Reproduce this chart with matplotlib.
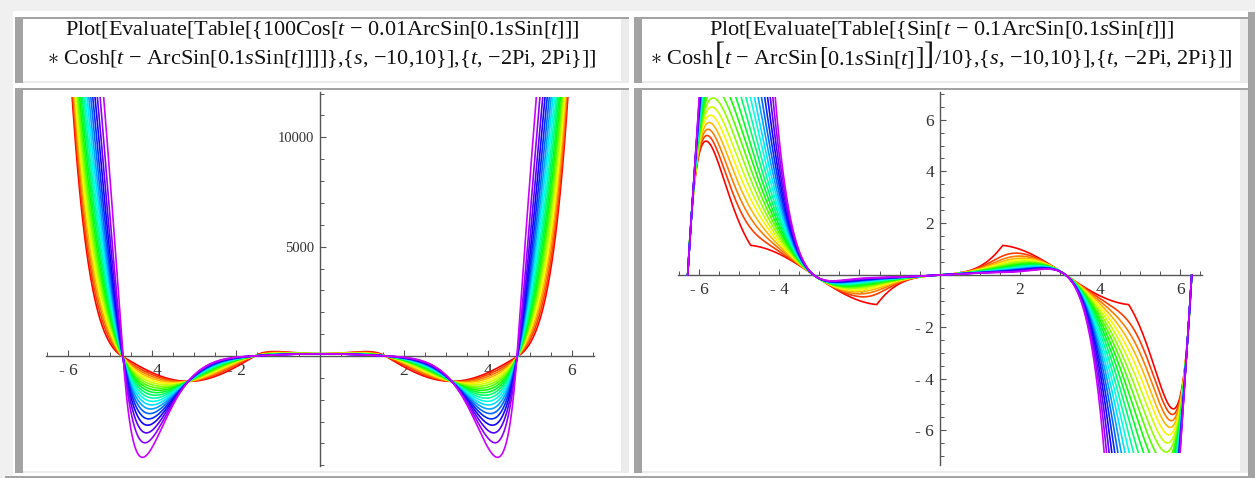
import numpy as np
import matplotlib
matplotlib.use("Agg")
import matplotlib.pyplot as plt
from matplotlib.patches import Rectangle
from matplotlib.ticker import MultipleLocator, FixedLocator, FuncFormatter
from matplotlib.colors import hsv_to_rgb

# ---------------------------
# Data (parameters shown in the chart titles)
# ---------------------------
s_values = list(range(-10, 11))          # Table over s, -10..10
t_range = (-2 * np.pi, 2 * np.pi)       # Plot over t, -2Pi..2Pi
left_amp = 100
left_shift = 0.01
right_shift = 0.1
right_div = 10
asin_scale = 0.1

left_xticks = [-6, -4, -2, 2, 4, 6]
left_yticks = [5000, 10000]
right_xticks = [-6, -4, -2, 2, 4, 6]
right_yticks = [-6, -4, -2, 2, 4, 6]

# title lines as (text, fontsize) pieces; bigger pieces are the tall brackets
TS = 16
left_title = [
    [("Plot[Evaluate[Table[{100Cos[$t$ − 0.01ArcSin[0.1$s$Sin[$t$]]]", TS)],
    [(r"$\ast$ Cosh[$t$ − ArcSin[0.1$s$Sin[$t$]]]]},{$s$, −10,10}],{$t$, −2Pi, 2Pi}]]", TS)],
]
right_title = [
    [("Plot[Evaluate[Table[{Sin[$t$ − 0.1ArcSin[0.1$s$Sin[$t$]]]", TS)],
    [(r"$\ast$ Cosh", TS), ("[", 22), ("$t$ − ArcSin", TS), ("[", 18.5),
     ("0.1$s$Sin[$t$]", TS), ("]", 18.5), ("]", 22),
     ("/10},{$s$, −10,10}],{$t$, −2Pi, 2Pi}]]", TS)],
]

# ---------------------------
# Style
# ---------------------------
plt.rcParams["mathtext.fontset"] = "custom"
plt.rcParams["mathtext.rm"] = "Liberation Serif"
plt.rcParams["mathtext.it"] = "Liberation Serif:italic"
plt.rcParams["font.family"] = ["Liberation Serif", "DejaVu Serif"]

W, H = 1255, 478
fig = plt.figure(figsize=(W / 100, H / 100), dpi=100)
fig.patch.set_facecolor("#f0f0f0")

DARK = "#a3a3a3"
LIGHT = "#ebebeb"


def px_rect(x0, y0, x1, y1, color):
    fig.add_artist(Rectangle((x0 / W, 1 - y1 / H), (x1 - x0) / W, (y1 - y0) / H,
                             transform=fig.transFigure, facecolor=color,
                             edgecolor="none", zorder=-5))


def cell(x0, y0, x1, y1):
    px_rect(x0, y0, x1, y1, "white")
    px_rect(x1 - 8, y0, x1, y1, LIGHT)
    px_rect(x0, y1 - 2, x1, y1, LIGHT)
    px_rect(x0, y0, x1, y0 + 1.8, DARK)
    px_rect(x0, y0, x0 + 7.7, y1, DARK)


# page / table frame
px_rect(12.7, 11, 1247.7, 476, "white")
px_rect(1247.7, 12, W, H, DARK)
px_rect(5, 476, W, H, DARK)

cell(15, 17, 629, 83)
cell(15, 88, 629, 473)
cell(634, 17, 1247.7, 83)
cell(634, 88, 1247.7, 473)

# titles, laid out piece by piece and centred in the header cell
renderer = fig.canvas.get_renderer()


def draw_line(pieces, xc, y_base):
    texts = [fig.text(0, 1 - y_base / H, s, fontsize=fs, va="baseline", ha="left",
                      color="#111111") for s, fs in pieces]
    widths = [tx.get_window_extent(renderer).width for tx in texts]
    x = xc - sum(widths) / 2
    for tx, w in zip(texts, widths):
        tx.set_x(x / W)
        x += w


for lines, xc in [(left_title, 322), (right_title, 941)]:
    for pieces, yb in zip(lines, [35, 64]):
        draw_line(pieces, xc, yb)

# ---------------------------
# Curves
# ---------------------------
t = np.linspace(t_range[0], t_range[1], 4000)
colors = [hsv_to_rgb((0.8 * i / (len(s_values) - 1), 1, 1)) for i in range(len(s_values))]


def left_f(s):
    a = np.arcsin(np.clip(asin_scale * s * np.sin(t), -1, 1))
    return left_amp * np.cos(t - left_shift * a) * np.cosh(t - a)


def right_f(s):
    a = np.arcsin(np.clip(asin_scale * s * np.sin(t), -1, 1))
    return np.sin(t - right_shift * a) * np.cosh(t - a) / right_div


def minus_fmt(v, pos):
    v = int(round(v))
    return f"- {abs(v)}" if v < 0 else f"{v}"


def setup_axes(rect, ylim, clip, xticks, yticks, yminor, func, ylabsize):
    ax = fig.add_axes([rect[0] / W, 1 - rect[3] / H,
                       (rect[2] - rect[0]) / W, (rect[3] - rect[1]) / H])
    ax.patch.set_visible(False)
    xl = 2 * np.pi + 0.02 * 4 * np.pi
    ax.set_xlim(-xl, xl)
    ax.set_ylim(*ylim)
    clip_box = Rectangle((-xl, clip[0]), 2 * xl, clip[1] - clip[0], transform=ax.transData)
    for s, c in zip(s_values, colors):
        ln, = ax.plot(t, func(s), color=c, lw=1.2, zorder=3)
        ln.set_clip_path(clip_box)
    for side in ["top", "right"]:
        ax.spines[side].set_visible(False)
    ax.spines["left"].set_position(("data", 0))
    ax.spines["bottom"].set_position(("data", 0))
    for side in ["left", "bottom"]:
        ax.spines[side].set_color("#555555")
        ax.spines[side].set_linewidth(1.0)
    ax.xaxis.set_major_locator(FixedLocator(xticks))
    ax.xaxis.set_minor_locator(MultipleLocator(0.5))
    ax.yaxis.set_major_locator(FixedLocator(yticks))
    ax.yaxis.set_minor_locator(MultipleLocator(yminor))
    ax.xaxis.set_major_formatter(FuncFormatter(minus_fmt))
    ax.yaxis.set_major_formatter(FuncFormatter(minus_fmt))
    ax.tick_params(which="major", direction="in", length=4.3, width=0.8,
                   color="#555555", labelcolor="#333333")
    ax.tick_params(which="minor", direction="in", length=2.8, width=0.7, color="#555555")
    ax.tick_params(axis="x", labelsize=12.5, pad=5)
    ax.tick_params(axis="y", labelsize=ylabsize, pad=4)
    return ax


left_ax = setup_axes((46, 91.7, 594, 466), (-5030, 12085), (-4700, 11840),
                     left_xticks, left_yticks, 1000, left_f, 10.5)
right_ax = setup_axes((677.6, 91.7, 1201.8, 465), (-7.34, 7.08), (-6.88, 6.88),
                      right_xticks, right_yticks, 0.5, right_f, 12.5)

fig.savefig("out.png", dpi=100, facecolor=fig.get_facecolor())
